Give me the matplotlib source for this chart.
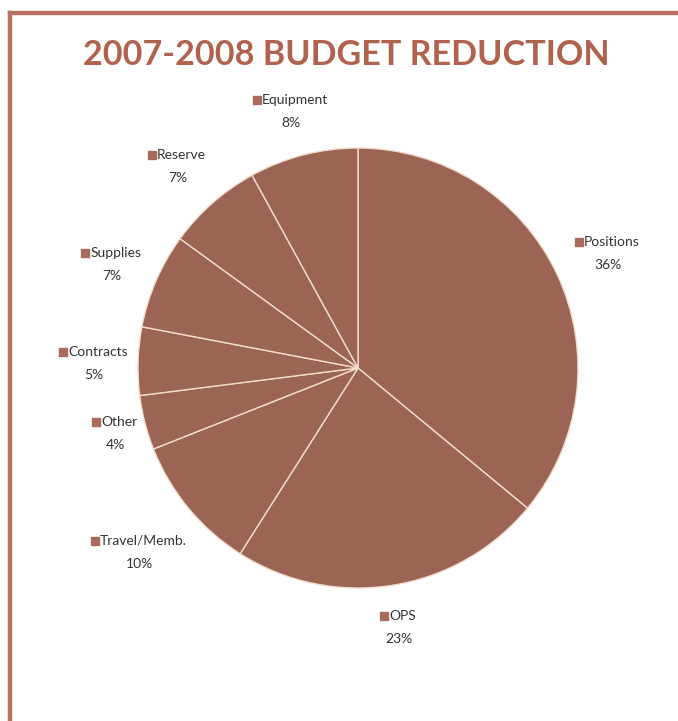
import numpy as np
import matplotlib
matplotlib.use("Agg")
import matplotlib.pyplot as plt
from matplotlib.transforms import offset_copy
from matplotlib.lines import Line2D

# ---- data ----
categories = ["Positions", "OPS", "Travel/Memb.", "Other", "Contracts",
              "Supplies", "Reserve", "Equipment"]
values = [36, 23, 10, 4, 5, 7, 7, 8]
title = "2007-2008 BUDGET REDUCTION"

# ---- style ----
wedge_color = "#9b6455"
marker_color = "#a86b5b"
title_color = "#b0624e"
frame_color = "#b87262"
text_color = "#333333"
label_dist = [1.255, 1.18, 1.29, 1.14, 1.20, 1.22, 1.24, 1.22]

plt.rcParams['font.family'] = ['Lato', 'DejaVu Sans']

fig = plt.figure(figsize=(6.78, 7.21), dpi=100)
W, H = 678, 721

# frame (top and left edges visible)
fig.add_artist(Line2D([10 / W, 1.0], [1 - 12.5 / H, 1 - 12.5 / H],
                      transform=fig.transFigure, color=frame_color, lw=3.2))
fig.add_artist(Line2D([10 / W, 10 / W], [0.0, 1 - 12.5 / H],
                      transform=fig.transFigure, color=frame_color, lw=3.2))

fig.text(346 / W, 1 - 55 / H, title, ha="center", va="center",
         fontsize=24.6, fontweight="bold", color=title_color)

ax = fig.add_axes([138 / W, 1 - 588 / H, 440 / W, 440 / H])
wedges, _ = ax.pie(values, startangle=90, counterclock=False, radius=1,
                   colors=[wedge_color] * len(values),
                   wedgeprops=dict(edgecolor="#f3dccd", linewidth=1.0))
ax.set_xlim(-1, 1)
ax.set_ylim(-1, 1)
ax.set_aspect("equal")
ax.axis("off")

name_texts = []
for w, name, v, d in zip(wedges, categories, values, label_dist):
    ang = np.deg2rad((w.theta1 + w.theta2) / 2)
    x, y = d * np.cos(ang), d * np.sin(ang)
    tr1 = offset_copy(ax.transData, fig=fig, x=4, y=8, units="dots")
    tr2 = offset_copy(ax.transData, fig=fig, x=0, y=-15, units="dots")
    t = ax.text(x, y, name, ha="center", va="center", fontsize=10,
                color=text_color, transform=tr1)
    ax.text(x, y, f"{v}%", ha="center", va="center", fontsize=10,
            color=text_color, transform=tr2)
    name_texts.append(t)

fig.canvas.draw()
renderer = fig.canvas.get_renderer()
for t in name_texts:
    bb = t.get_window_extent(renderer)
    mx = bb.x0 - 5
    my = (bb.y0 + bb.y1) / 2
    fig.add_artist(Line2D([mx / W], [my / H], transform=fig.transFigure,
                          marker="s", markersize=5.5, color=marker_color,
                          linestyle="none"))

fig.savefig("out.png", dpi=100, facecolor="white")
